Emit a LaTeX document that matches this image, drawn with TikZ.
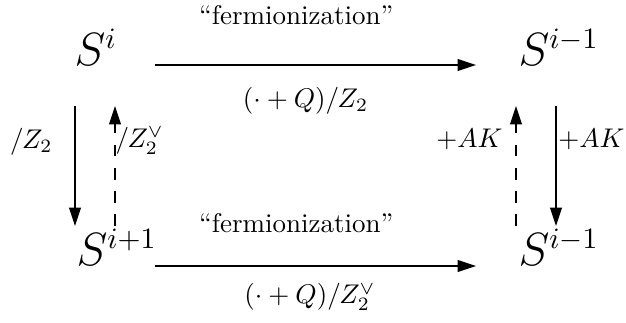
\documentclass[tikz,border=0pt]{standalone}
\usepackage{amsmath,amssymb}
\usetikzlibrary{arrows.meta,calc}
\tikzset{
  obj/.style={inner sep=0pt, font=\fontsize{16}{19}\selectfont},
  lbl/.style={inner sep=0pt},
  arr/.style={-{Triangle[length=6.8pt,width=4.4pt]}, line width=0.4pt},
  darr/.style={arr, dash pattern=on 4.3pt off 4.3pt}
}
\begin{document}
\begin{tikzpicture}[x=0.3704pt, y=-0.3704pt]
\useasboundingbox (0,0) rectangle (626,322);
\node[obj, anchor=base west] (si)  at (74,65)  {$S^{i}$};
\node[obj, anchor=base west] (sip) at (76,265) {$S^{i+1}$};
\node[obj, anchor=base west] (sm)  at (518,65) {$S^{i-1}$};
\node[obj, anchor=base west] (smb) at (518,265) {$S^{i-1}$};

% horizontal maps
\draw[arr] ($(si.base west)+(81,0)$) --
  node[lbl, pos=0.44, above=14.8pt] {``fermionization''}
  node[lbl, pos=0.469, below=8.1pt] {$(\cdot+Q)/Z_2$} ($(sm.base west)+(-42,0)$);
\draw[arr] ($(sip.base west)+(79,1)$) --
  node[lbl, pos=0.44, above=12.2pt] {``fermionization''}
  node[lbl, pos=0.483, below=6.3pt] {$(\cdot+Q)/Z_2^\vee$} ($(smb.base west)+(-42,1)$);

% vertical maps
\draw[arr] ($(si.base west)+(1,41)$) --
  node[lbl, pos=0.3, left=8.1pt] {$/Z_2$} ($(sip.base west)+(-1,-39)$);
\draw[darr] ($(sip.base west)+(39,-39)$) --
  node[lbl, pos=0.71, right=0pt] {$/Z_2^\vee$} ($(si.base west)+(41,41)$);
\draw[darr] ($(smb.base west)+(-2,-39)$) --
  node[lbl, pos=0.725, left=4.8pt] {$+AK$} ($(sm.base west)+(-2,41)$);
\draw[arr] ($(sm.base west)+(38,41)$) --
  node[lbl, pos=0.275, right=0.7pt] {$+AK$} ($(smb.base west)+(38,-39)$);
\end{tikzpicture}
\end{document}
